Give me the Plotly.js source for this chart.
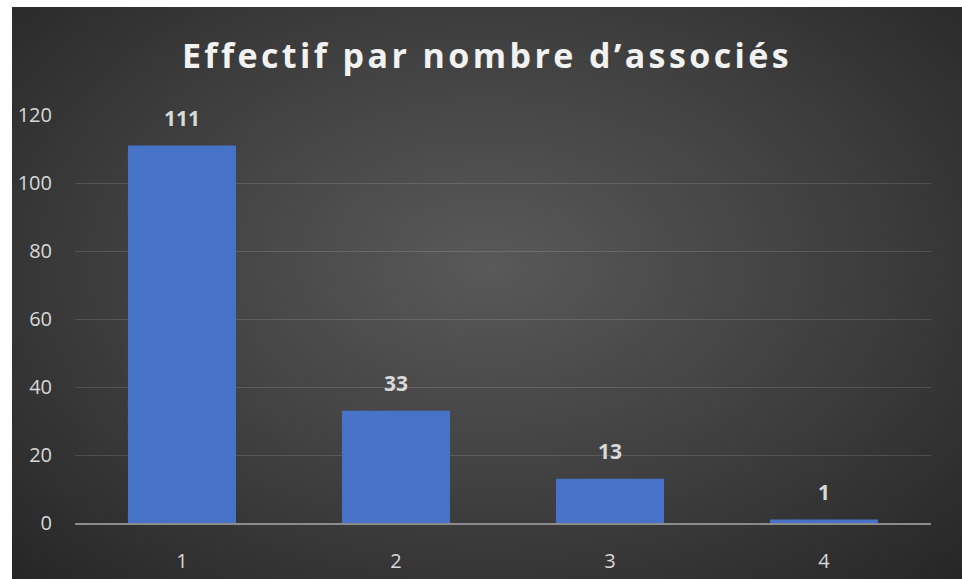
<!DOCTYPE html>
<html>
<head>
<meta charset="utf-8">
<script src="https://cdn.plot.ly/plotly-3.0.1.min.js"></script>
<style>
  html, body { margin: 0; padding: 0; background: #ffffff; }
  #chart {
    position: absolute;
    left: 12px;
    top: 7px;
    width: 950px;
    height: 572px;
    background: radial-gradient(ellipse at 50% 45%, #595959 0%, #3e3e3e 55%, #262626 100%);
  }
  .gtitle { letter-spacing: 3.4px; }
</style>
</head>
<body>
<div id="chart"></div>
<script>
const categories = ["1", "2", "3", "4"];
const effectifs = [111, 33, 13, 1];
const yTicks = [0, 20, 40, 60, 80, 100, 120];

const labelColor = "#d9d9d9";
const fontFamily = "'Open Sans', 'Noto Sans', sans-serif";

const trace = {
  type: "bar",
  x: categories,
  y: effectifs,
  marker: {
    color: "#4673c7",
    line: { width: 0 }
  },
  hoverinfo: "skip"
};

// category axis: place labels by index
const labels = categories.map((c, i) => ({
  x: i,
  y: effectifs[i],
  xref: "x",
  yref: "y",
  text: String(effectifs[i]),
  showarrow: false,
  yanchor: "bottom",
  yshift: 12,
  font: { family: fontFamily, size: 21, color: labelColor, weight: 700 }
}));

const layout = {
  width: 950,
  height: 572,
  margin: { l: 63, r: 31, t: 108, b: 56 },
  paper_bgcolor: "rgba(0,0,0,0)",
  plot_bgcolor: "rgba(0,0,0,0)",
  title: {
    text: "<b>Effectif par nombre d’associés</b>",
    x: 0.5,
    xanchor: "center",
    y: 0.915,
    yanchor: "middle",
    font: { family: fontFamily, size: 34, color: "#f2f2f2" }
  },
  bargap: 0.495,
  showlegend: false,
  xaxis: {
    type: "category",
    range: [-0.5, categories.length - 0.5],
    tickfont: { family: fontFamily, size: 20, color: labelColor },
    ticks: "",
    ticklabelstandoff: 19,
    showgrid: false,
    showline: true,
    linecolor: "#8c8c8c",
    linewidth: 2,
    zeroline: false
  },
  yaxis: {
    range: [0, 120],
    tickvals: yTicks,
    tickfont: { family: fontFamily, size: 20, color: labelColor },
    ticks: "",
    ticklabelstandoff: 22,
    showgrid: true,
    gridcolor: "rgba(255,255,255,0.13)",
    gridwidth: 1,
    zeroline: false,
    showline: false
  },
  annotations: labels
};

Plotly.newPlot("chart", [trace], layout, { displayModeBar: false, staticPlot: true });
</script>
</body>
</html>
